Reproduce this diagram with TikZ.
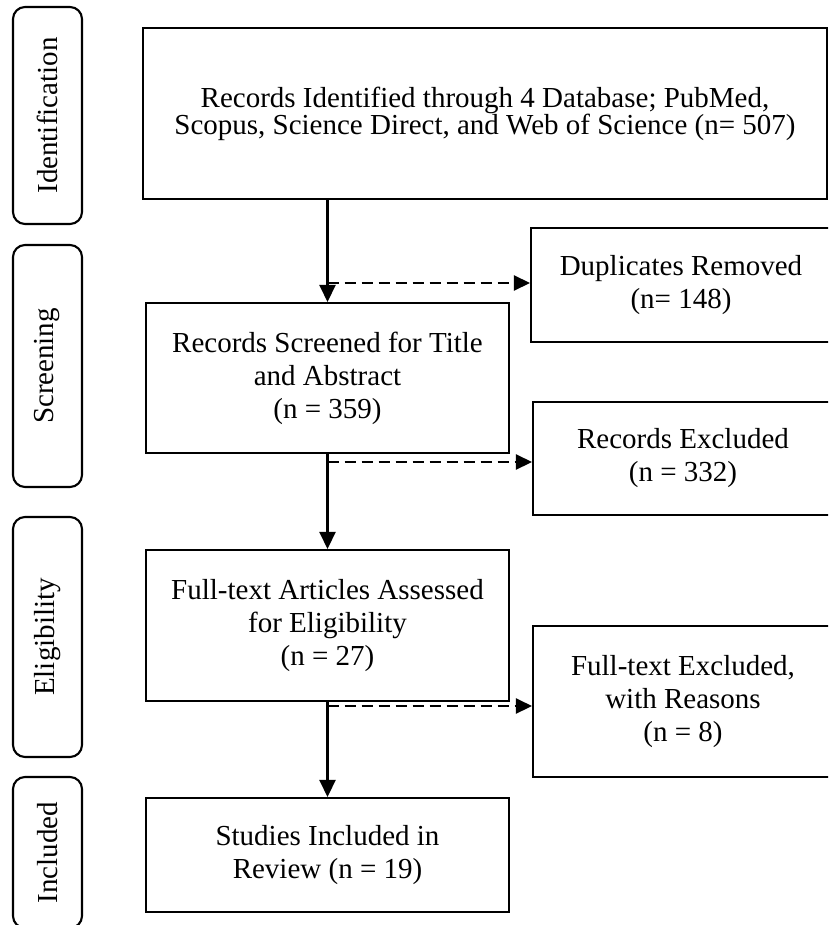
\documentclass[tikz,border=0pt]{standalone}
\usepackage{fontspec}
\setmainfont{Liberation Serif}
\usetikzlibrary{arrows.meta}
\begin{document}
\begin{tikzpicture}[x=1pt,y=-1pt,
  txt/.style={font=\fontsize{29}{33}\selectfont},
  box/.style={draw, line width=2.1pt, rectangle, inner sep=0pt, align=center, txt},
  phase/.style={draw, line width=2.1pt, rounded corners=12pt, inner sep=0pt,
                minimum height=69pt, rotate=90, txt},
  solidarrow/.style={line width=2.5pt, -{Triangle[length=17pt,width=16pt]}},
  dasharrow/.style={line width=2.5pt, dash pattern=on 11pt off 6pt,
                    -{Triangle[length=16pt,width=15pt]}}]
\useasboundingbox (0,0) rectangle (828,925);
\clip (0,0) rectangle (828,925);
\fill[white] (0,0) rectangle (828,925);

% phase labels
\node[phase, minimum width=217pt] (pid) at (47.5,115.5) {Identification};
\node[phase, minimum width=242pt] (psc) at (47.5,366) {Screening};
\node[phase, minimum width=240pt] (pel) at (47.5,637) {Eligibility};
\node[phase, minimum width=151pt] (pin) at (47.5,852.5) {Included};

% main boxes
\node[box, minimum width=684pt, minimum height=171pt,
      font=\fontsize{29}{27}\selectfont] (b1) at (485,113.5)
  {Records Identified through 4 Database; PubMed,\\Scopus, Science Direct, and Web of Science (n= 507)};
\node[box, minimum width=363pt, minimum height=150pt] (b2) at (327.5,378)
  {Records Screened for Title\\and Abstract\\(n = 359)};
\node[box, minimum width=363pt, minimum height=151pt] (b3) at (327.5,625.5)
  {Full-text Articles Assessed\\for Eligibility\\(n = 27)};
\node[box, minimum width=363pt, minimum height=114pt] (b4) at (327.5,855)
  {Studies Included in\\Review (n = 19)};

% side boxes (cut off at the right edge)
\node[box, minimum width=300pt, minimum height=114pt] (dup) at (681,285)
  {Duplicates Removed\\(n= 148)};
\node[box, minimum width=300pt, minimum height=113pt] (rex) at (683,458.5)
  {Records Excluded\\(n = 332)};
\node[box, minimum width=300pt, minimum height=151pt] (fex) at (683,701.5)
  {Full-text Excluded,\\with Reasons\\(n = 8)};

% dashed levels
\coordinate (d1) at (0,283);
\coordinate (d2) at (0,462);
\coordinate (d3) at (0,706);

% connectors
\draw[solidarrow] (b1.south -| b2.north) -- (b2.north);
\draw[solidarrow] (b2.south) -- (b3.north);
\draw[solidarrow] (b3.south) -- (b4.north);
\draw[dasharrow] (b2.north |- d1) -- (dup.west |- d1);
\draw[dasharrow] (b2.south |- d2) -- (rex.west |- d2);
\draw[dasharrow] (b3.south |- d3) -- (fex.west |- d3);
\end{tikzpicture}
\end{document}
